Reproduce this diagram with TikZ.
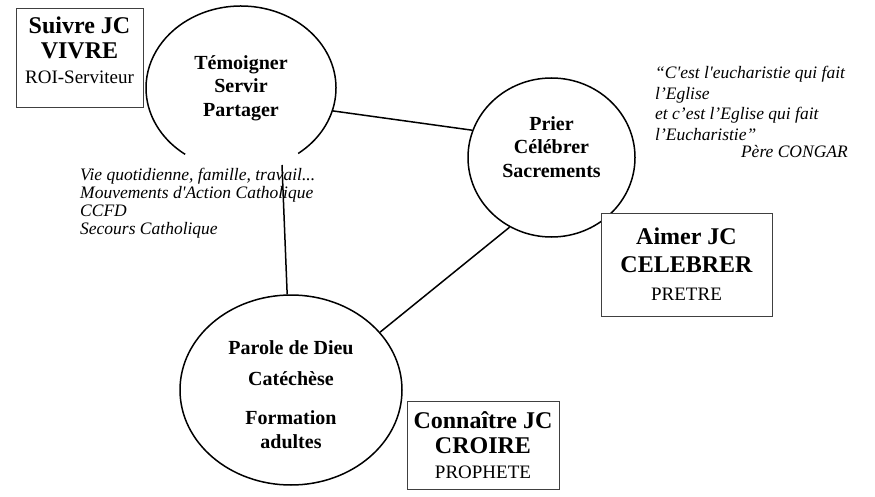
\documentclass[tikz,border=0pt]{standalone}
\usepackage{fontspec}
\setmainfont{Liberation Serif}
\usepackage{tikz}
\usetikzlibrary{shapes}

\begin{document}
\begin{tikzpicture}[x=1pt,y=1pt,
    cadre/.style={draw=black!75,line width=0.8pt,fill=white,inner sep=0pt,align=center,font=\fontsize{24}{25}\selectfont\bfseries},
    rond/.style={ellipse,line width=1.5pt,inner sep=0pt,align=center,font=\fontsize{20}{23.5}\selectfont\bfseries},
    cite/.style={inner sep=0pt,align=left,font=\fontsize{17.5}{18}\selectfont\itshape},
    lien/.style={line width=1.5pt}]
    \useasboundingbox (0,0) rectangle (875,496);

    % les trois cercles
    \node[rond,minimum width=190pt,minimum height=164pt] (temoigner) at (241,408) {Témoigner\\Servir\\Partager};
    \draw[lien,shift={(temoigner.center)}] (-53:95pt and 82pt) arc[start angle=-53,end angle=234,x radius=95pt,y radius=82pt];
    \node[rond,draw,minimum width=167pt,minimum height=159pt] (prier) at (551.5,338.5) {Prier\\Célébrer\\Sacrements\rule[-21pt]{0pt}{21pt}};
    \node[rond,draw,minimum width=222pt,minimum height=190pt,font=\fontsize{20}{24.5}\selectfont\bfseries] (parole) at (291,106) {\rule{0pt}{23pt}Parole de Dieu\\[6.5pt]Catéchèse\\[14.5pt]Formation\\adultes};

    % les cadres
    \node[cadre,minimum width=127pt,minimum height=99pt] (vivre) at (79.5,438.5) {Suivre JC\\VIVRE\\{\mdseries\fontsize{19}{25}\selectfont ROI-Serviteur}\rule[-15pt]{0pt}{15pt}};
    \node[cadre,minimum width=171pt,minimum height=103pt,font=\fontsize{24}{28}\selectfont\bfseries] (celebrer) at (686.5,231.5) {Aimer JC\\CELEBRER\\{\mdseries\fontsize{19}{28}\selectfont PRETRE}};
    \node[cadre,minimum width=152pt,minimum height=88pt] (croire) at (483,51) {Connaître JC\\CROIRE\\{\mdseries\fontsize{19}{25}\selectfont PROPHETE}};

    % les textes en italique
    \node[cite,anchor=north west] (engagements) at (80,327.6) {Vie quotidienne, famille, travail...\\Mouvements d\textquotesingle Action Catholique\\CCFD\\Secours Catholique};
    \node[cite,anchor=north west,font=\fontsize{17.5}{20.5}\selectfont\itshape] (eucharistie) at (655,430) {“C\textquotesingle est l\textquotesingle eucharistie qui fait\\l’Eglise\\et c’est l’Eglise qui fait\\l’Eucharistie”};
    \node[cite,anchor=base east] (congar) at (848,338) {Père CONGAR};

    % les liens
    \coordinate (depart) at (282,331);
    \draw[lien] (temoigner.-14) -- (prier.161);
    \draw[lien] (depart) -- (parole);
    \draw[lien] (parole.33) -- (prier.-121);
\end{tikzpicture}
\end{document}
